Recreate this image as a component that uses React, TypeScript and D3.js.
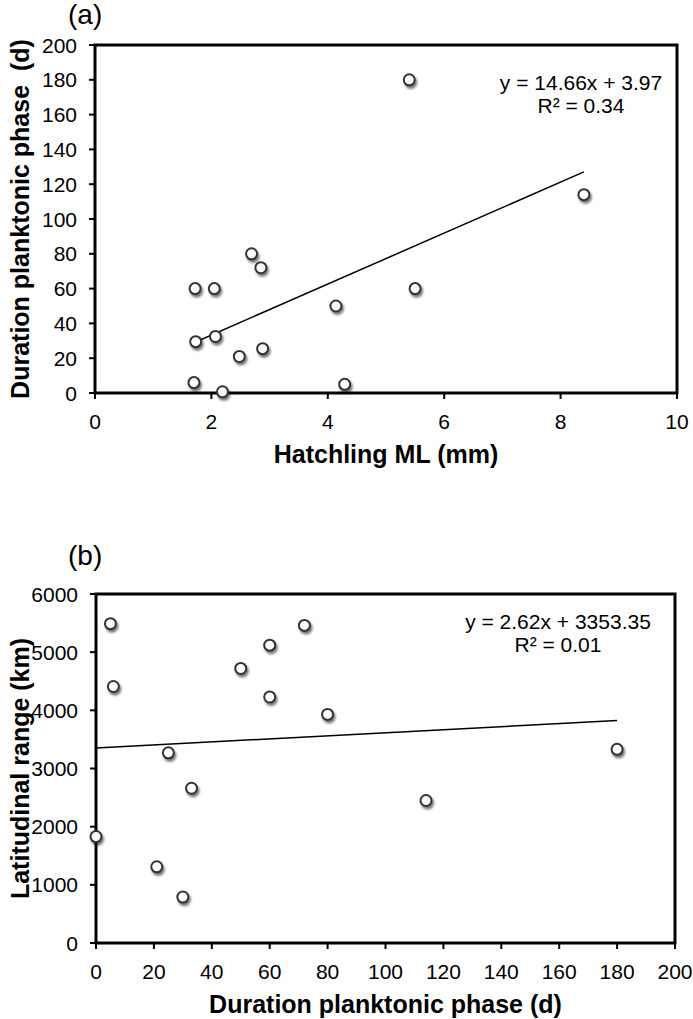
import React from "react";
import * as d3 from "d3";

// Panel (a): Hatchling ML vs duration of planktonic phase
const hatchlingML = [1.72, 2.05, 2.69, 2.85, 5.5, 4.14, 1.73, 2.07, 2.48, 2.88, 1.7, 2.19, 4.29, 5.4, 8.4];
const durationA = [60, 60, 80, 72, 60, 50, 29.5, 32.5, 21, 25.5, 6, 0.7, 5, 180, 114];
const fitA = { slope: 14.66, intercept: 3.97 };
const eqA = ["y = 14.66x + 3.97", "R² = 0.34"];
const xTicksA = [0, 2, 4, 6, 8, 10];
const yTicksA = [0, 20, 40, 60, 80, 100, 120, 140, 160, 180, 200];

// Panel (b): duration of planktonic phase vs latitudinal range
const durationB = [5, 6, 50, 60, 72, 60, 80, 25, 33, 0, 21, 30, 114, 180];
const latRange = [5490, 4410, 4720, 5120, 5460, 4230, 3930, 3270, 2660, 1830, 1310, 790, 2450, 3330];
const fitB = { slope: 2.62, intercept: 3353.35 };
const eqB = ["y = 2.62x + 3353.35", "R² = 0.01"];
const xTicksB = [0, 20, 40, 60, 80, 100, 120, 140, 160, 180, 200];
const yTicksB = [0, 1000, 2000, 3000, 4000, 5000, 6000];

const FONT = "'Liberation Sans', Arial, Helvetica, sans-serif";

type PanelProps = {
  label: string;
  xs: number[];
  ys: number[];
  fit: { slope: number; intercept: number };
  eq: string[];
  xTicks: number[];
  yTicks: number[];
  xDomain: [number, number];
  yDomain: [number, number];
  left: number;
  right: number;
  top: number;
  bottom: number;
  xTitle: string;
  yTitle: string;
  eqX: number;
  eqY: number;
  labelY: number;
};

function Panel(p: PanelProps) {
  const x = d3.scaleLinear().domain(p.xDomain).range([p.left, p.right]);
  const y = d3.scaleLinear().domain(p.yDomain).range([p.bottom, p.top]);
  const [x0, x1] = d3.extent(p.xs) as [number, number];
  const line = d3
    .line<number>()
    .x((d) => x(d))
    .y((d) => y(p.fit.slope * d + p.fit.intercept));
  return (
    <g>
      <text x={68} y={p.labelY} fontFamily={FONT} fontSize={28} fill="#000">
        {p.label}
      </text>
      {/* frame */}
      <rect
        x={p.left}
        y={p.top}
        width={p.right - p.left}
        height={p.bottom - p.top}
        fill="none"
        stroke="#000"
        strokeWidth={3}
      />
      {/* y ticks */}
      {p.yTicks.map((t) => (
        <g key={"y" + t}>
          <line x1={p.left - 6} x2={p.left} y1={y(t)} y2={y(t)} stroke="#000" strokeWidth={2} />
          <text
            x={p.left - 18}
            y={y(t)}
            dy="0.36em"
            textAnchor="end"
            fontFamily={FONT}
            fontSize={21}
            fill="#000"
          >
            {t}
          </text>
        </g>
      ))}
      {/* x ticks */}
      {p.xTicks.map((t) => (
        <g key={"x" + t}>
          <line x1={x(t)} x2={x(t)} y1={p.bottom} y2={p.bottom + 6} stroke="#000" strokeWidth={2} />
          <text
            x={x(t)}
            y={p.bottom + 36}
            textAnchor="middle"
            fontFamily={FONT}
            fontSize={21}
            fill="#000"
          >
            {t}
          </text>
        </g>
      ))}
      {/* trend line */}
      <path d={line([x0, x1]) || ""} fill="none" stroke="#000" strokeWidth={1.5} />
      {/* points */}
      {p.xs.map((xv, i) => (
        <circle
          key={"p" + i}
          cx={x(xv)}
          cy={y(p.ys[i])}
          r={5.5}
          fill="#fff"
          stroke="#333"
          strokeWidth={2}
          filter="url(#shadow)"
        />
      ))}
      {/* equation */}
      {p.eq.map((s, i) => (
        <text
          key={"e" + i}
          x={p.eqX}
          y={p.eqY + i * 23}
          textAnchor="middle"
          fontFamily={FONT}
          fontSize={21}
          fill="#000"
        >
          {s}
        </text>
      ))}
      {/* axis titles */}
      <text
        x={(p.left + p.right) / 2}
        y={p.bottom + 70}
        textAnchor="middle"
        fontFamily={FONT}
        fontSize={25}
        fontWeight="bold"
        fill="#000"
      >
        {p.xTitle}
      </text>
      <text
        transform={`translate(29,${(p.top + p.bottom) / 2}) rotate(-90)`}
        textAnchor="middle"
        fontFamily={FONT}
        fontSize={25}
        fontWeight="bold"
        fill="#000"
        style={{ whiteSpace: "pre" }}
      >
        {p.yTitle}
      </text>
    </g>
  );
}

export default function App() {
  return (
    <svg
      width={693}
      height={1019}
      viewBox="0 0 693 1019"
      style={{ position: "absolute", left: 0, top: 0, background: "#fff" }}
    >
      <defs>
        <filter id="shadow" x="-50%" y="-50%" width="200%" height="200%">
          <feDropShadow dx={1.5} dy={2.5} stdDeviation={1.3} floodColor="#000" floodOpacity={0.55} />
        </filter>
      </defs>
      <rect width={693} height={1019} fill="#fff" />
      <Panel
        label="(a)"
        xs={hatchlingML}
        ys={durationA}
        fit={fitA}
        eq={eqA}
        xTicks={xTicksA}
        yTicks={yTicksA}
        xDomain={[0, 10]}
        yDomain={[0, 200]}
        left={95}
        right={677}
        top={45}
        bottom={393}
        xTitle="Hatchling ML (mm)"
        yTitle="Duration planktonic phase  (d)"
        eqX={581}
        eqY={90}
        labelY={24}
      />
      <Panel
        label="(b)"
        xs={durationB}
        ys={latRange}
        fit={fitB}
        eq={eqB}
        xTicks={xTicksB}
        yTicks={yTicksB}
        xDomain={[0, 200]}
        yDomain={[0, 6000]}
        left={96}
        right={675}
        top={594}
        bottom={943}
        xTitle="Duration planktonic phase (d)"
        yTitle="Latitudinal range (km)"
        eqX={558}
        eqY={629}
        labelY={565}
      />
    </svg>
  );
}
